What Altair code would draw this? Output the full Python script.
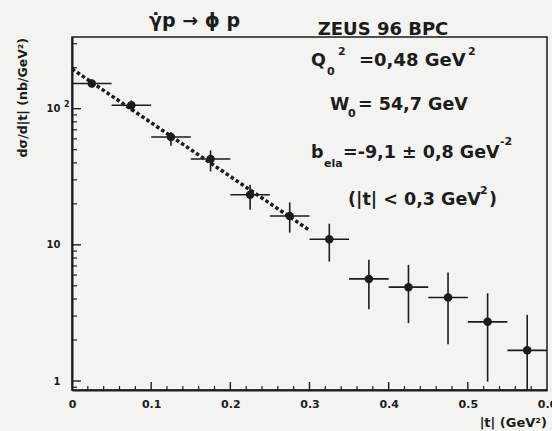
import math
import altair as alt
import pandas as pd

# |t| bins (GeV^2): centres and half-width
t_center = [0.025, 0.075, 0.125, 0.175, 0.225, 0.275, 0.325, 0.375, 0.425, 0.475, 0.525, 0.575]
bin_half = 0.025

# dσ/d|t| (nb/GeV^2) with lower / upper error edges
xsec = [153, 106, 62, 42.7, 23.3, 16.3, 11.0, 5.62, 4.89, 4.10, 2.72, 1.68]
err_lo = [142.6, 95.5, 53.4, 34.6, 18.1, 12.3, 7.54, 3.37, 2.66, 1.86, 0.99, 0.80]
err_hi = [163.4, 115.0, 67.0, 49.3, 27.6, 20.5, 14.3, 7.76, 7.13, 6.26, 4.41, 3.06]

# exponential fit dσ/d|t| = A exp(-b|t|), |t| < 0.3 GeV^2
fit_norm = 196.0
b_ela = 9.1
fit_t = [0.0, 0.3]

# axis ticks and labels
x_major = [0.0, 0.1, 0.2, 0.3, 0.4, 0.5, 0.6]
x_minor = [round(0.02 * i, 2) for i in range(1, 30) if i % 5 != 0]
y_major = [1, 10, 100]
y_minor = [0.9, 2, 3, 4, 5, 6, 7, 8, 9, 20, 30, 40, 50, 60, 70, 80, 90, 200, 300]

W, H = 475, 353
INK = "#1c1c1c"
FONT = "DejaVu Sans"

xs = alt.Scale(domain=[0, 0.6], nice=False, zero=False)
ys = alt.Scale(type="log", domain=[0.859, 336], nice=False)

x_axis = alt.Axis(
    values=x_major, ticks=False, grid=False, domain=True,
    domainColor=INK, domainWidth=2, labelFlush=False, labelOverlap=False,
    labelBound=False, labelPadding=8, labelFont=FONT, labelFontSize=11,
    labelFontWeight="bold", labelColor=INK, title=None,
    labelExpr="datum.value == 0 ? '0' : format(datum.value, '.1f')")
y_axis = alt.Axis(
    values=y_major, ticks=False, grid=False, domain=True,
    domainColor=INK, domainWidth=2, labelPadding=12, labelFont=FONT,
    labelFontSize=10, labelFontWeight="bold", labelColor=INK, title=None,
    labelOverlap=False, labelFlush=False,
    labelExpr="datum.value >= 10 ? '10' : '1'")

data = pd.DataFrame({
    "t": t_center,
    "xsec": xsec,
    "lo": err_lo,
    "hi": err_hi,
})
data["t_lo"] = data["t"] - bin_half
data["t_hi"] = data["t"] + bin_half

fit = pd.DataFrame({"t": fit_t})
fit["xsec"] = fit_norm * (-b_ela * fit["t"]).apply(math.exp)

one = pd.DataFrame({"a": [0]})


def txt(text, x, y, size, align="left", baseline="alphabetic", angle=None):
    kw = dict(text=text, align=align, baseline=baseline, font=FONT,
              fontSize=size, fontWeight="bold", color=INK)
    if angle is not None:
        kw["angle"] = angle
    return alt.Chart(one).mark_text(**kw).encode(x=alt.value(x), y=alt.value(y))


# inward tick marks
xt_major = alt.Chart(pd.DataFrame({"v": x_major[1:-1]})).mark_rule(
    color=INK, strokeWidth=1.4).encode(
    x=alt.X("v:Q", scale=xs, axis=x_axis), y=alt.value(H), y2=alt.value(H - 8))
xt_minor = alt.Chart(pd.DataFrame({"v": x_minor})).mark_rule(
    color=INK, strokeWidth=1.2).encode(
    x=alt.X("v:Q", scale=xs, axis=x_axis), y=alt.value(H), y2=alt.value(H - 4))
yt_major = alt.Chart(pd.DataFrame({"v": y_major})).mark_rule(
    color=INK, strokeWidth=1.4).encode(
    y=alt.Y("v:Q", scale=ys, axis=y_axis), x=alt.value(0), x2=alt.value(9))
yt_minor = alt.Chart(pd.DataFrame({"v": y_minor})).mark_rule(
    color=INK, strokeWidth=1.2).encode(
    y=alt.Y("v:Q", scale=ys, axis=y_axis), x=alt.value(0), x2=alt.value(5))

# error bars
vbar = alt.Chart(data).mark_rule(color=INK, strokeWidth=1.6, clip=True).encode(
    x=alt.X("t:Q", scale=xs, axis=x_axis),
    y=alt.Y("lo:Q", scale=ys, axis=y_axis),
    y2="hi:Q",
)
hbar = alt.Chart(data).mark_rule(color=INK, strokeWidth=1.6).encode(
    x=alt.X("t_lo:Q", scale=xs, axis=x_axis),
    x2="t_hi:Q",
    y=alt.Y("xsec:Q", scale=ys, axis=y_axis),
)

fit_line = alt.Chart(fit).mark_line(
    color=INK, strokeWidth=3.5, strokeDash=[3.5, 2.5]).encode(
    x=alt.X("t:Q", scale=xs, axis=x_axis),
    y=alt.Y("xsec:Q", scale=ys, axis=y_axis),
)

points = alt.Chart(data).mark_circle(color=INK, size=72, opacity=1).encode(
    x=alt.X("t:Q", scale=xs, axis=x_axis),
    y=alt.Y("xsec:Q", scale=ys, axis=y_axis),
)

texts = [
    # reaction and experiment
    txt("γ\u0307p → ϕ p", 77, -10, 19),
    txt("ZEUS 96 BPC", 311, -2, 18, align="center"),
    # Q0^2 line
    txt("Q", 239, 29, 17.5),
    txt("0", 255, 38, 11),
    txt("2", 266, 18, 11),
    txt("=0,48 GeV", 287, 29, 18),
    txt("2", 396, 18, 11),
    # W0 line
    txt("W", 258, 73, 17.5),
    txt("0", 276, 80, 11),
    txt("= 54,7 GeV", 286, 73, 17.5),
    # slope line
    txt("b", 239, 121, 17.5),
    txt("ela", 252, 130, 11),
    txt("=-9,1 ± 0,8 GeV", 271, 121, 17.5),
    txt("-2", 428, 108, 11),
    # fit range
    txt("(|t| < 0,3 GeV", 276, 168, 17.5),
    txt("2", 408, 157, 11),
    txt(")", 417, 168, 17.5),
    # axis titles and exponent
    txt("2", -8, 70, 8),
    txt("dσ/d|t| (nb/GeV²)", -49, 1, 12.5, align="right", baseline="middle", angle=270),
    txt("|t| (GeV²)", W, 390, 13, align="right"),
]

chart = alt.layer(
    xt_major, xt_minor, yt_major, yt_minor, vbar, hbar, fit_line, points, *texts
).properties(
    width=W, height=H,
    autosize=alt.AutoSizeParams(type="none"),
    padding={"left": 72, "top": 37, "right": 5, "bottom": 41},
    background="#f3f3f1",
).configure_view(stroke=INK, strokeWidth=1.5)

chart.save("out.html", embed_options={"renderer": "svg", "actions": False})
